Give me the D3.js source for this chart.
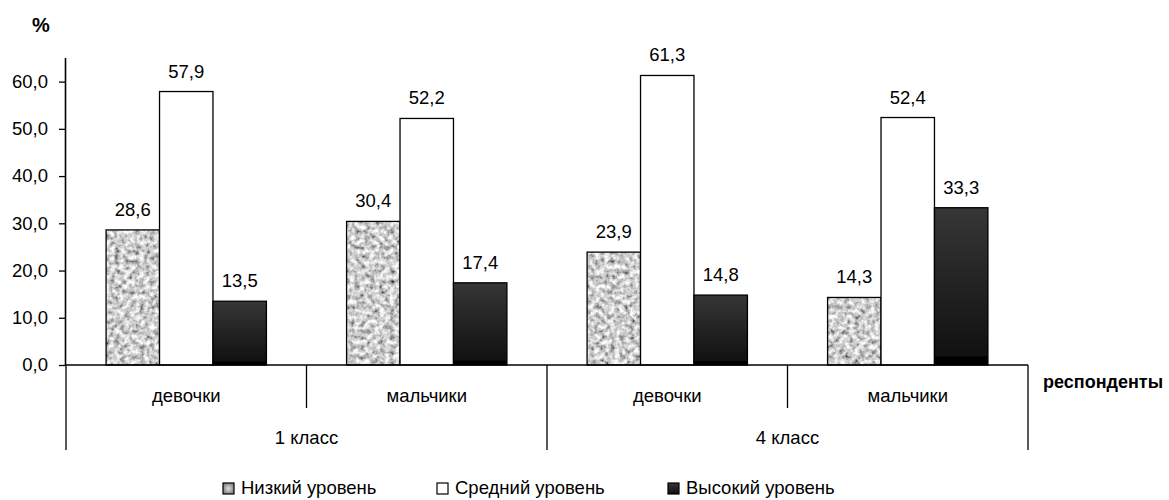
<!DOCTYPE html>
<html><head><meta charset="utf-8">
<script src="https://cdn.jsdelivr.net/npm/d3@7"></script>
<style>body{margin:0;background:#fff}text{font-family:"Liberation Sans",Arial,sans-serif}</style>
</head><body><svg id="c" width="1169" height="500"></svg>
<script>
const categories = ["девочки","мальчики","девочки","мальчики"];
const groups = ["1 класс","4 класс"];
const seriesNames = ["Низкий уровень","Средний уровень","Высокий уровень"];
const low = [28.6,30.4,23.9,14.3];
const mid = [57.9,52.2,61.3,52.4];
const high = [13.5,17.4,14.8,33.3];
const yTicks = [0,10,20,30,40,50,60];

const svg = d3.select("#c");
const L=66, R=1028, T=58, B=365;
const FS=18.5;
const defs = svg.append("defs");
const f = defs.append("filter").attr("id","granite").attr("x",0).attr("y",0).attr("width",1).attr("height",1);
f.append("feTurbulence").attr("type","fractalNoise").attr("baseFrequency",0.2).attr("numOctaves",3).attr("seed",5).attr("result","n");
f.append("feColorMatrix").attr("in","n").attr("type","matrix")
 .attr("values","1.5 0 0 0 -0.13  1.5 0 0 0 -0.13  1.5 0 0 0 -0.13  0 0 0 0 1").attr("result","g");
f.append("feComposite").attr("in","g").attr("in2","SourceAlpha").attr("operator","in");
const gr = defs.append("linearGradient").attr("id","dark").attr("x1",0).attr("y1",0).attr("x2",0).attr("y2",1);
gr.append("stop").attr("offset","0%").attr("stop-color","#363636");
gr.append("stop").attr("offset","94%").attr("stop-color","#111");
gr.append("stop").attr("offset","95%").attr("stop-color","#000");
gr.append("stop").attr("offset","100%").attr("stop-color","#000");
const lgr = defs.append("radialGradient").attr("id","lowleg");
lgr.append("stop").attr("offset","0%").attr("stop-color","#ddd");
lgr.append("stop").attr("offset","100%").attr("stop-color","#888");

const x0 = d3.scaleBand().domain(d3.range(categories.length)).range([L,R]).paddingInner(0).paddingOuter(0);
const x1 = d3.scaleBand().domain([0,1,2]).range([0,x0.bandwidth()]).paddingOuter(0.75).paddingInner(0);
const y = d3.scaleLinear().domain([0,65]).range([B,T]);

const fmt = v => d3.format(".1f")(v).replace(".",",");
const series=[low,mid,high];
const fills=[null,"#fff","url(#dark)"];

series.forEach((s,si)=>{
  s.forEach((v,ci)=>{
    const xx = x0(ci)+x1(si), w=x1.bandwidth();
    if(si===0){
      svg.append("rect").attr("x",xx).attr("y",y(v)).attr("width",w).attr("height",B-y(v)).attr("fill","#aaa").attr("filter","url(#granite)");
    }
    svg.append("rect").attr("x",xx).attr("y",y(v)).attr("width",w).attr("height",B-y(v))
      .attr("fill",si===0?"none":fills[si]).attr("stroke","#000").attr("stroke-width",1.3);
    svg.append("text").attr("x",xx+w/2).attr("y",y(v)-14).attr("text-anchor","middle").attr("font-size",FS).text(fmt(v));
  });
});

// y axis
const ya = svg.append("g").attr("transform",`translate(${L},0)`)
 .call(d3.axisLeft(y).tickValues(yTicks).tickSize(7).tickPadding(11).tickFormat(fmt));
ya.select(".domain").attr("d",`M-0.5,${T}V${B}`).attr("stroke","#000").attr("stroke-width",1.6);
ya.selectAll("line").attr("stroke","#000").attr("stroke-width",1.3);
ya.selectAll("text").attr("font-size",FS).attr("fill","#000").style("font-family","Liberation Sans, Arial");

// x axis
svg.append("line").attr("x1",L).attr("x2",R).attr("y1",B).attr("y2",B).attr("stroke","#000").attr("stroke-width",1.6);
categories.forEach((c,i)=>{
  const xx=x0(i);
  svg.append("text").attr("x",xx+x0.bandwidth()/2).attr("y",402).attr("text-anchor","middle").attr("font-size",FS).text(c);
});
d3.range(categories.length+1).forEach(i=>{
  const xx = i<categories.length? x0(i) : R;
  const long = i%2===0;
  svg.append("line").attr("x1",xx).attr("x2",xx).attr("y1",B).attr("y2",long?450:408).attr("stroke","#000").attr("stroke-width",1.3);
});
groups.forEach((g,i)=>{
  const xa=x0(i*2), xb=x0(i*2+1)+x0.bandwidth();
  svg.append("text").attr("x",(xa+xb)/2).attr("y",444).attr("text-anchor","middle").attr("font-size",FS).text(g);
});

svg.append("text").attr("x",32).attr("y",32).attr("font-size",20).attr("font-weight","bold").text("%");
svg.append("text").attr("x",1043).attr("y",388).attr("font-size",18).attr("font-weight","bold").text("респонденты");

// legend
const lgx=[223,437,668];
seriesNames.forEach((n,i)=>{
  const g=svg.append("g").attr("transform",`translate(${lgx[i]},483)`);
  g.append("rect").attr("width",11).attr("height",11).attr("fill",i===0?"url(#lowleg)":fills[i]).attr("stroke","#000").attr("stroke-width",1.2);
  g.append("text").attr("x",18).attr("y",11).attr("font-size",FS).text(n);
});
</script></body></html>
